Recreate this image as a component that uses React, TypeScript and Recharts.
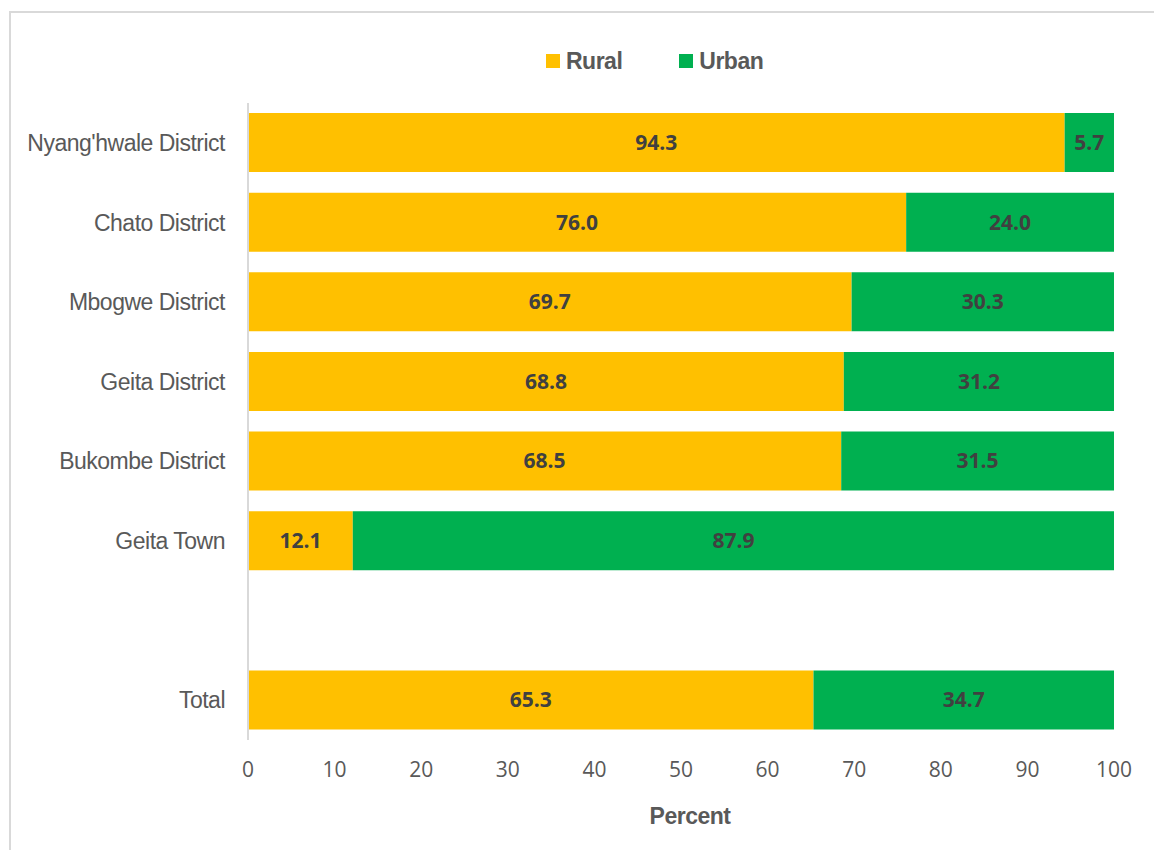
import { BarChart, Bar, XAxis, YAxis, Legend, LabelList } from 'recharts';

const areas = [
  "Nyang'hwale District",
  'Chato District',
  'Mbogwe District',
  'Geita District',
  'Bukombe District',
  'Geita Town',
  '',
  'Total',
];
const rural = [94.3, 76.0, 69.7, 68.8, 68.5, 12.1, null, 65.3];
const urban = [5.7, 24.0, 30.3, 31.2, 31.5, 87.9, null, 34.7];
const xTicks = [0, 10, 20, 30, 40, 50, 60, 70, 80, 90, 100];

const data = areas.map((name, i) => ({ name, rural: rural[i], urban: urban[i] }));

const narrow = '"Liberation Sans Narrow", "Arial Narrow", "Liberation Sans", sans-serif';
const body = '"Open Sans", "Liberation Sans", sans-serif';

const fmt = (v: any) => (v == null ? '' : Number(v).toFixed(1));

const legendItems = [
  { label: 'Rural', color: '#FFC000' },
  { label: 'Urban', color: '#00B050' },
];

const renderLegend = () => (
  <div
    style={{
      display: 'flex',
      justifyContent: 'flex-start',
      gap: 57,
      fontFamily: narrow,
      fontWeight: 'bold',
      fontSize: 23,
      letterSpacing: -0.5,
      color: '#595959',
      paddingLeft: 546,
      lineHeight: '30px',
    }}
  >
    {legendItems.map((item) => (
      <div key={item.label} style={{ display: 'flex', alignItems: 'center' }}>
        <span
          style={{ width: 14, height: 14, background: item.color, marginRight: 6, display: 'inline-block' }}
        />
        <span>{item.label}</span>
      </div>
    ))}
  </div>
);

export default function App() {
  return (
    <div
      style={{
        position: 'absolute',
        left: 0,
        top: 0,
        width: 1154,
        height: 850,
        background: '#fff',
        overflow: 'hidden',
      }}
    >
      <div
        style={{
          position: 'absolute',
          left: 9,
          top: 11,
          width: 1160,
          height: 850,
          border: '2px solid #D9D9D9',
        }}
      />
      <BarChart
        width={1154}
        height={850}
        data={data}
        layout="vertical"
        margin={{ top: 103, right: 40, left: 8, bottom: 0 }}
      >
        <Legend
          verticalAlign="middle"
          align="center"
          content={renderLegend}
          wrapperStyle={{ top: 46, left: 0, width: 1154 }}
        />
        <XAxis
          type="number"
          domain={[0, 100]}
          ticks={xTicks}
          axisLine={false}
          tickLine={false}
          tickSize={0}
          tickMargin={22}
          height={110}
          tick={{ fill: '#595959', fontSize: 21, fontFamily: body }}
          label={{
            value: 'Percent',
            position: 'insideBottom',
            offset: 26,
            dx: 9,
            fill: '#595959',
            fontSize: 23,
            letterSpacing: -0.5,
            fontWeight: 'bold',
            fontFamily: narrow,
          }}
        />
        <YAxis
          type="category"
          dataKey="name"
          width={240}
          axisLine={{ stroke: '#D9D9D9', strokeWidth: 2 }}
          tickLine={false}
          tickSize={0}
          tickMargin={23}
          interval={0}
          tick={{ fill: '#595959', fontSize: 23, fontFamily: narrow, letterSpacing: -0.5 }}
        />
        <Bar dataKey="rural" stackId="a" fill="#FFC000" barSize={59} isAnimationActive={false}>
          <LabelList
            dataKey="rural"
            position="center"
            formatter={fmt}
            fill="#404040"
            fontSize={21}
            fontWeight="bold"
            fontFamily={body}
          />
        </Bar>
        <Bar dataKey="urban" stackId="a" fill="#00B050" barSize={59} isAnimationActive={false}>
          <LabelList
            dataKey="urban"
            position="center"
            formatter={fmt}
            fill="#404040"
            fontSize={21}
            fontWeight="bold"
            fontFamily={body}
          />
        </Bar>
      </BarChart>
    </div>
  );
}
